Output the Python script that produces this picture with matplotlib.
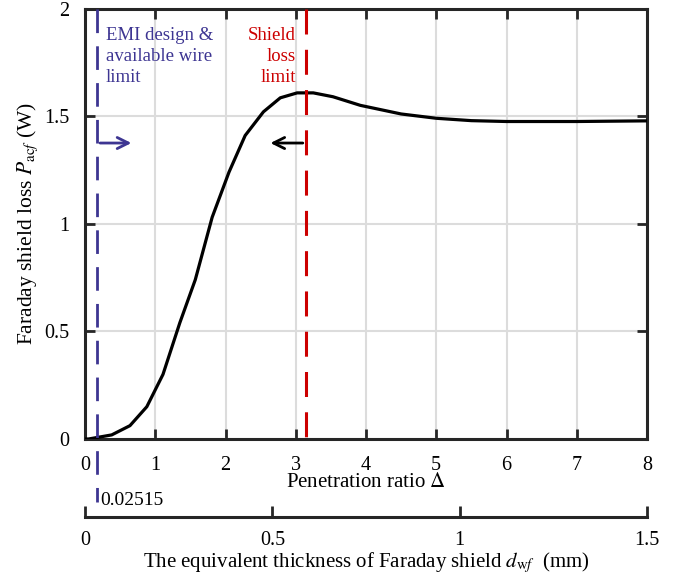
import matplotlib.pyplot as plt
import numpy as np

plt.rcParams['font.family'] = ['Liberation Serif', 'DejaVu Serif']
plt.rcParams['mathtext.fontset'] = 'stix'
plt.rcParams['lines.scale_dashes'] = False

# curve (penetration ratio vs shield loss)
delta = [0.0, 0.05, 0.38, 0.64, 0.88, 1.11, 1.35, 1.57, 1.81, 2.05, 2.28,
         2.54, 2.78, 3.02, 3.25, 3.53, 3.92, 4.5, 5.0, 5.5, 6.0, 7.0, 8.0]
p_loss = [0.0, 0.0, 0.019, 0.062, 0.15, 0.30, 0.54, 0.74, 1.03, 1.24, 1.41,
          1.52, 1.585, 1.608, 1.608, 1.59, 1.55, 1.51, 1.49, 1.479, 1.475, 1.475, 1.478]

emi_limit = 0.175      # in delta units
shield_limit = 3.14
emi_label = "0.02515"
mm_ticks = [0, 0.5, 1, 1.5]
mm_max = 1.5
delta_max = 8

blue = '#3d3592'
red = '#cc0000'
fs_note = 13.5
fs_tick = 14.5
fs_lab = 15

fig = plt.figure(figsize=(6.81, 5.76), dpi=100)
ax = fig.add_axes([85 / 681, 1 - 439 / 576, 562 / 681, 430.5 / 576])

ax.plot(delta, p_loss, color='black', lw=2.3, zorder=3)

ax.plot([emi_limit, emi_limit], [2.0, -0.295], color=blue, lw=2.0,
        dashes=(17, 9.5), clip_on=False, zorder=4)
ax.plot([shield_limit, shield_limit], [2.0, 0.0], color=red, lw=2.2,
        dashes=(18, 11), zorder=4)

ax.annotate('', xy=(0.7, 1.375), xytext=(emi_limit, 1.375),
            arrowprops=dict(arrowstyle='->,head_length=0.8,head_width=0.4',
                            color=blue, lw=2.0))
ax.annotate('', xy=(2.6, 1.375), xytext=(shield_limit, 1.375),
            arrowprops=dict(arrowstyle='->,head_length=0.8,head_width=0.4',
                            color='black', lw=2.0))

ax.text(0.3, 1.915, 'EMI design &\navailable wire\nlimit', color=blue,
        fontsize=fs_note, va='top', ha='left', linespacing=1.3)
ax.text(3.0, 1.915, 'Shield\nloss\nlimit', color=red, fontsize=fs_note,
        va='top', ha='right', multialignment='right', linespacing=1.3)
ax.text(emi_limit + 0.04, -0.285, emi_label, fontsize=14,
        va='center', ha='left', clip_on=False)

ax.set_xlim(0, delta_max)
ax.set_ylim(0, 2)
ax.set_xticks(range(0, 9))
ax.set_yticks([0, 0.5, 1, 1.5, 2])
ax.set_yticklabels(['0', '0.5', '1', '1.5', '2'])
ax.grid(True, color='#dcdcdc', lw=1.5)
ax.set_axisbelow(True)
ax.tick_params(direction='in', length=7, width=2, top=True, right=True,
               labelsize=fs_tick, colors='#262626', labelcolor='black')
ax.tick_params(axis='x', pad=12)
ax.tick_params(axis='y', pad=11)
for s in ax.spines.values():
    s.set_linewidth(2.2)
    s.set_color('#262626')

ax.set_xlabel(r'Penetration ratio $\Delta$', fontsize=fs_lab, labelpad=-1)
ax.set_ylabel(r'Faraday shield loss $P_{\mathrm{ac}f}$ (W)', fontsize=fs_lab + 0.5,
              labelpad=3)

sec = ax.secondary_xaxis(-0.181, functions=(lambda d: d * mm_max / delta_max,
                                            lambda m: m * delta_max / mm_max))
sec.set_xticks(mm_ticks)
sec.set_xticklabels(['0', '0.5', '1', '1.5'])
sec.tick_params(direction='in', length=8, width=2, labelsize=fs_tick, pad=10,
                colors='#262626', labelcolor='black')
sec.spines['bottom'].set_linewidth(2.2)
sec.spines['bottom'].set_color('#262626')
sec.set_xlabel(r'The equivalent thickness of Faraday shield $d_{\mathrm{w}f}$  (mm)',
               fontsize=fs_lab, labelpad=0)

fig.savefig('out.png', dpi=100)
